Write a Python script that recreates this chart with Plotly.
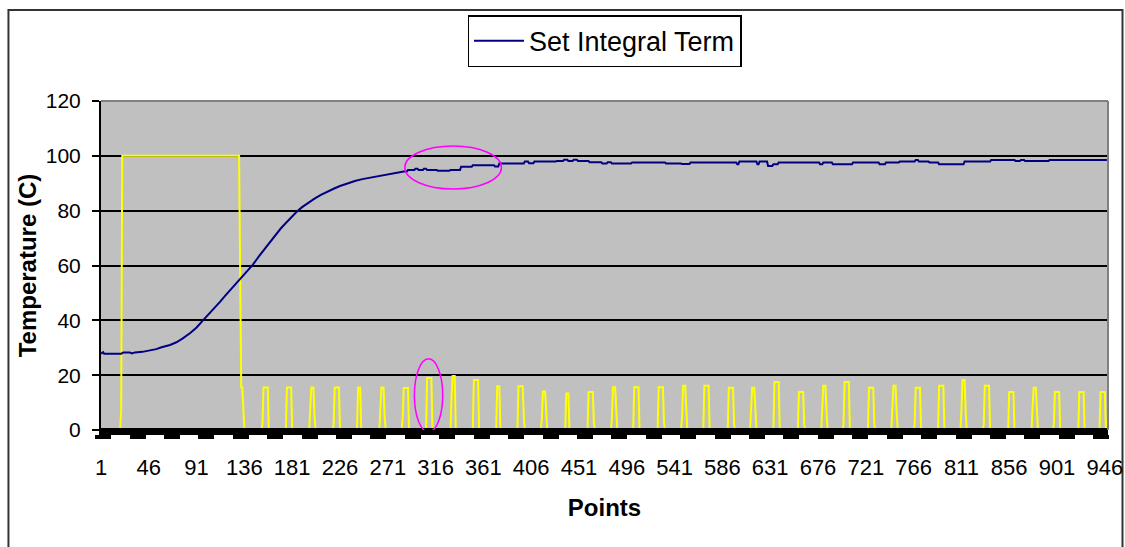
import numpy as np
import plotly.graph_objects as go

# ---------------- data ----------------
# Temperature while heating up (sample index -> deg C)
rise_idx = [1, 3, 4, 20, 22, 28, 30, 33, 40, 46, 50, 53, 58, 62, 66, 72, 78, 85, 91,
            97, 103, 108, 113, 118, 124, 129, 134, 139, 144, 150, 155, 160, 165, 170,
            175, 180, 185, 190, 196, 202, 208, 214, 220, 226, 233, 240, 247, 254, 261,
            268, 275, 280, 285]
rise_temp = [27.8, 28.4, 27.8, 27.8, 28.3, 28.3, 27.9, 28.3, 28.5, 28.9, 29.2, 29.5,
             30.2, 30.6, 31.0, 32.0, 33.4, 35.4, 37.4, 40.0, 42.4, 44.5, 46.7, 49.0,
             51.6, 54.0, 56.3, 58.2, 60.3, 63.5, 66.0, 68.5, 71.0, 73.4, 75.5, 77.6,
             79.5, 81.2, 82.9, 84.4, 85.8, 87.0, 88.0, 89.0, 90.0, 90.8, 91.5, 92.0,
             92.5, 93.0, 93.4, 93.7, 94.3]

# Temperature near the set point: quantised readings held over index ranges
level_start = [286, 290, 297, 300, 305, 308, 318, 330, 340, 351, 372, 376, 400, 404,
               409, 430, 437, 441, 446, 450, 461, 473, 478, 482, 501, 533, 548, 556,
               600, 602, 619, 621, 629, 634, 639, 678, 681, 690, 709, 734, 740, 753,
               768, 771, 781, 790, 814, 839, 862, 867, 871, 894]
level_end = [289, 296, 299, 304, 307, 317, 329, 339, 350, 371, 375, 399, 403, 408,
             429, 436, 440, 445, 449, 460, 472, 477, 481, 500, 532, 547, 555, 599,
             601, 618, 620, 628, 633, 638, 677, 680, 689, 708, 733, 739, 752, 767,
             770, 780, 789, 813, 838, 861, 866, 870, 893, 948]
level_temp = [94.3, 94.8, 95.3, 94.8, 95.3, 94.8, 94.6, 94.8, 96.0, 96.6, 96.1, 97.2,
              97.9, 97.3, 97.9, 98.1, 98.6, 98.1, 98.6, 98.1, 97.7, 97.2, 97.7, 97.2,
              97.6, 97.2, 97.0, 97.6, 96.9, 97.9, 96.9, 97.9, 96.3, 96.9, 97.6, 96.9,
              97.6, 96.9, 97.6, 96.9, 97.6, 97.9, 98.5, 97.9, 97.6, 96.9, 97.9, 98.5,
              98.1, 98.5, 98.1, 98.5]

# Heater drive: runs of consecutive samples (first index, values)
heater_start = [1, 19, 131, 152, 175, 197, 219, 242, 263, 284, 307, 330, 351, 373,
                393, 415, 438, 459, 481, 502, 525, 547, 568, 591, 612, 634, 657, 679,
                699, 723, 745, 766, 789, 810, 831, 855, 877, 897, 921, 941, 948]
heater_values = [
    [0],
    [0, 7, 100],
    [100, 60, 15.5, 15.5, 6, 0],
    [0, 2, 15.5, 15.5, 15.5, 15.5, 15.5, 0],
    [0, 15.5, 15.5, 15.5, 15.5, 15.5, 0],
    [0, 8, 15.5, 15.5, 15.5, 5, 0],
    [0, 2, 15.5, 15.5, 15.5, 15.5, 15.5, 0],
    [0, 15.5, 15.5, 15.5, 0],
    [0, 8, 15.5, 15.5, 15.5, 5, 0],
    [0, 4.5, 15.3, 15.3, 15.3, 15.3, 15.3, 0],
    [0, 19, 19, 19, 19, 19, 0],
    [0, 12, 19.7, 19.7, 19.7, 0],
    [0, 18.2, 18.2, 18.2, 18.2, 18.2, 0],
    [0, 16, 16, 16, 0],
    [0, 16, 16, 16, 16, 16, 5, 0],
    [0, 4, 14, 14, 14, 8.5, 0],
    [0, 13.3, 13.3, 13.3, 0],
    [0, 13.9, 13.9, 13.9, 13.9, 13.9, 2.5, 0],
    [0, 4.5, 15.6, 15.6, 15.6, 8.5, 0],
    [0, 15.6, 15.6, 15.6, 15.6, 15.6, 0],
    [0, 15.6, 15.6, 15.6, 15.6, 15.6, 2.5, 0],
    [0, 4.5, 16.1, 16.1, 16.1, 8, 0],
    [0, 16.1, 16.1, 16.1, 16.1, 16.1, 0],
    [0, 15.4, 15.4, 15.4, 15.4, 15.4, 2, 0],
    [0, 8, 15.4, 15.4, 15.4, 8, 0],
    [0, 17.5, 17.5, 17.5, 17.5, 17.5, 0],
    [0, 13.9, 13.9, 13.9, 13.9, 13.9, 2, 0],
    [0, 6.7, 16.1, 16.1, 16.1, 7, 0],
    [0, 2, 17.5, 17.5, 17.5, 17.5, 17.5, 0],
    [0, 15.4, 15.4, 15.4, 15.4, 15.4, 2, 0],
    [0, 7.3, 16.1, 16.1, 16.1, 7.3, 0],
    [0, 2, 15.4, 15.4, 15.4, 15.4, 15.4, 0],
    [0, 16.1, 16.1, 16.1, 16.1, 16.1, 0],
    [0, 7, 18.2, 18.2, 18.2, 7, 0],
    [0, 2, 16.1, 16.1, 16.1, 16.1, 16.1, 0],
    [0, 13.9, 13.9, 13.9, 13.9, 13.9, 0],
    [0, 8.5, 15.4, 15.4, 15.4, 8.5, 0],
    [0, 2, 13.9, 13.9, 13.9, 13.9, 13.9, 0],
    [0, 13.9, 13.9, 13.9, 13.9, 13.9, 0],
    [0, 13.9, 13.9, 13.9, 13.9, 13.9, 0],
    [0, 4.7],
]

# Baseline series (all zero)
base_idx = [1, 949]
base_val = [0, 0]

x_tick_labels = ["1", "46", "91", "136", "181", "226", "271", "316", "361", "406",
                 "451", "496", "541", "586", "631", "676", "721", "766", "811", "856",
                 "901", "946"]
y_tick_labels = ["0", "20", "40", "60", "80", "100", "120"]

# ---------------- build series ----------------
temp_x = list(rise_idx)
temp_y = list(rise_temp)
for s, e, v in zip(level_start, level_end, level_temp):
    temp_x += [s, e]
    temp_y += [v, v]

heat_x, heat_y = [], []
for s, vals in zip(heater_start, heater_values):
    for k, v in enumerate(vals):
        heat_x.append(s + k)
        heat_y.append(v)

FONT = "Liberation Sans, Arial, sans-serif"

fig = go.Figure()
fig.add_trace(go.Scatter(x=heat_x, y=heat_y, mode="lines", name="Heater",
                         line=dict(color="#FFFF00", width=2), showlegend=False))
fig.add_trace(go.Scatter(x=base_idx, y=base_val, mode="lines", name="Zero",
                         line=dict(color="black", width=4), showlegend=False))
fig.add_trace(go.Scatter(x=temp_x, y=temp_y, mode="lines", name="Set Integral Term",
                         line=dict(color="#000080", width=2)))

# plot-area frame (top and right edges), outer chart frame, highlight ellipses
shapes = [
    dict(type="line", xref="paper", yref="paper", x0=0, x1=1, y0=1, y1=1,
         line=dict(color="#808080", width=2), layer="above"),
    dict(type="line", xref="paper", yref="paper", x0=1, x1=1, y0=0, y1=1,
         line=dict(color="#808080", width=2), layer="above"),
    dict(type="rect", xref="paper", yref="paper", x0=-0.0919, x1=1.0144,
         y0=-0.5, y1=1.2766, line=dict(color="#333333", width=2), layer="below"),
    dict(type="circle", xref="x", yref="y", x0=287, x1=378, y0=87.9, y1=103.6,
         line=dict(color="#FF00FF", width=1.5)),
    dict(type="circle", xref="x", yref="y", x0=296, x1=322.7, y0=-0.7, y1=26,
         line=dict(color="#FF00FF", width=1.5)),
]

fig.update_layout(
    width=1125, height=547,
    margin=dict(l=101, r=17, t=101, b=117),
    paper_bgcolor="white", plot_bgcolor="#C0C0C0",
    font=dict(family=FONT, color="black"),
    shapes=shapes,
    showlegend=True,
    legend=dict(x=0.5, xanchor="center", y=1.261, yanchor="top",
                bgcolor="white", bordercolor="black", borderwidth=1.5,
                itemwidth=50,
                font=dict(size=27, family=FONT)),
    xaxis=dict(
        range=[1, 949], showgrid=False, zeroline=False, automargin=False,
        showline=True, linecolor="black", linewidth=5,
        tickmode="array", tickvals=[int(t) for t in x_tick_labels],
        ticktext=x_tick_labels, ticks="", ticklabelstandoff=14,
        tickfont=dict(size=22, family=FONT),
        minor=dict(tickvals=list(np.arange(3, 949, 32.4)), ticks="outside",
                   ticklen=4, tickwidth=16, tickcolor="black", showgrid=False),
        title=dict(text="<b>Points</b>", font=dict(size=24, family=FONT), standoff=21),
    ),
    yaxis=dict(
        range=[0, 120], tickmode="array", tickvals=[int(t) for t in y_tick_labels],
        ticktext=y_tick_labels, automargin=False,
        showgrid=True, gridcolor="black", gridwidth=1.5, zeroline=False,
        showline=True, linecolor="black", linewidth=2,
        ticks="outside", ticklen=7, tickwidth=2, tickcolor="black",
        ticklabelstandoff=7, tickfont=dict(size=21, family=FONT),
        title=dict(text="<b>Temperature (C)</b>", font=dict(size=24, family=FONT), standoff=2),
    ),
)

fig.write_html("out.html")
